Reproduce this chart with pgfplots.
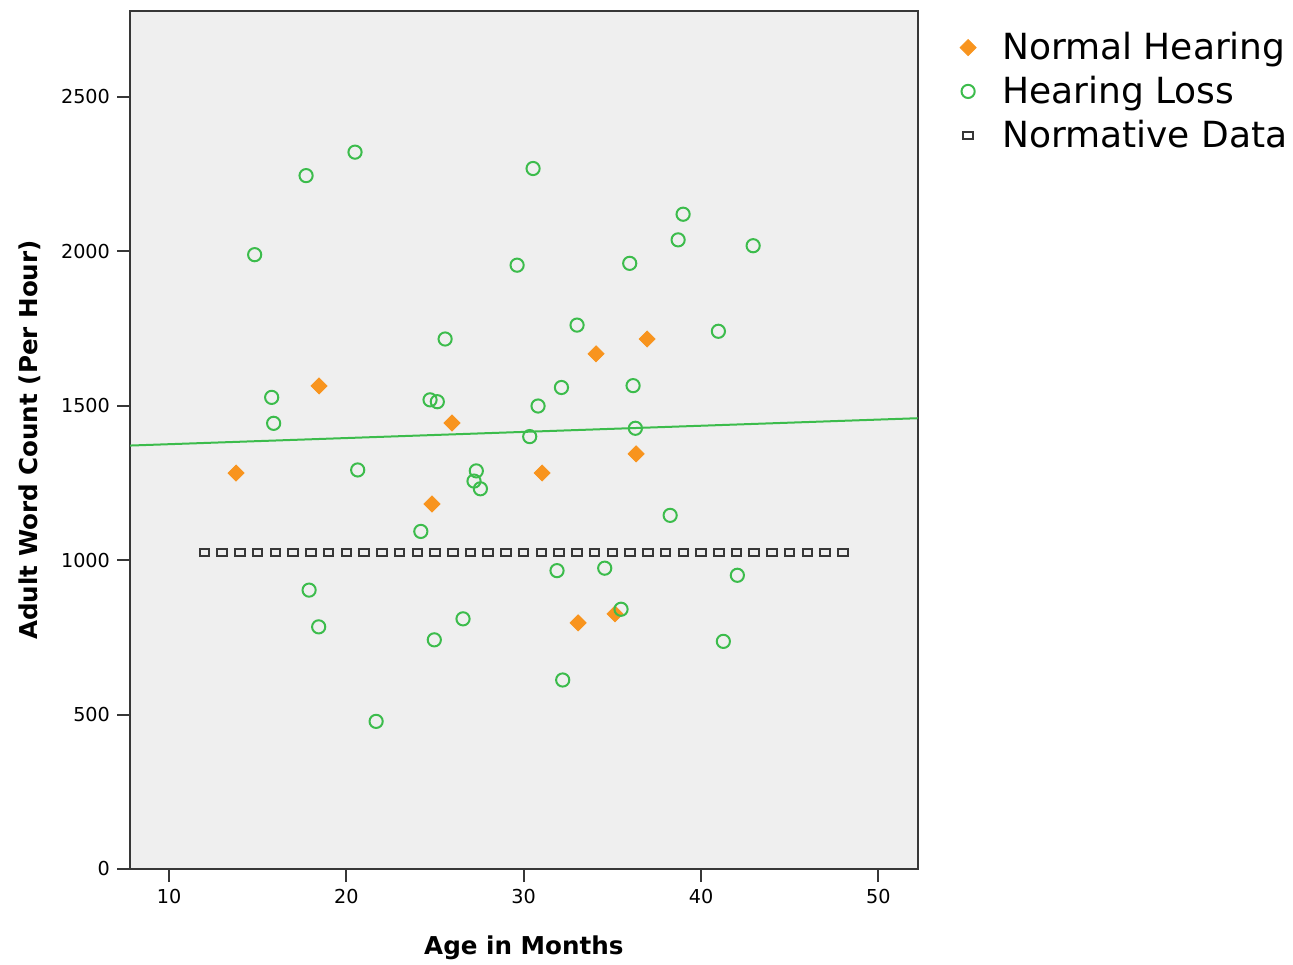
\documentclass[border=0pt]{standalone}
\usepackage{fontspec}
\setmainfont{DejaVu Sans}
\usepackage{pgfplots}
\pgfplotsset{compat=1.18}
\definecolor{nhorange}{RGB}{248,148,30}
\definecolor{hlgreen}{RGB}{60,188,76}
\definecolor{plotbg}{RGB}{239,239,239}
\definecolor{axgray}{RGB}{55,55,55}
\begin{document}
\begin{tikzpicture}
\useasboundingbox (-65pt,-47.5pt) rectangle (581.5pt,434.5pt);
\begin{axis}[
  at={(0,0)}, anchor=south west,
  scale only axis, width=393.85pt, height=429pt,
  xmin=7.8, xmax=52.22, ymin=0, ymax=2778,
  axis background/.style={fill=plotbg},
  axis line style={draw=axgray, line width=1pt},
  xtick={10,20,30,40,50}, ytick={0,500,1000,1500,2000,2500},
  tick align=outside, tick pos=left,
  major tick length=6.5pt,
  tick style={draw=axgray, line width=1pt},
  ticklabel style={font=\fontsize{9.6}{11}\selectfont},
  /pgf/number format/assume math mode=true,
  /pgf/number format/1000 sep={},
  xlabel={Age in Months}, ylabel={Adult Word Count (Per Hour)},
  label style={font=\bfseries\fontsize{12.3}{14}\selectfont},
  xlabel style={at={(axis description cs:0.5,-0.092)}, anchor=center},
  ylabel style={at={(axis description cs:-0.127,0.5)}, anchor=center},
  legend cell align=left,
  legend style={draw=none, fill=none, at={(axis description cs:1,1)}, anchor=north west,
    xshift=18pt, yshift=-6.5pt, column sep=11pt, row sep=2.75pt,
    font=\fontsize{18}{21}\selectfont},
]
\addplot[only marks, color=nhorange, mark=square*, mark size=2.83pt,
  mark options={rotate=45, draw=nhorange, fill=nhorange}] coordinates {
(13.78,1282) (18.46,1564) (25.96,1444) (24.83,1182) (31.04,1282)
(34.08,1668) (36.96,1716) (36.34,1344) (33.07,797) (35.15,826)
};
\addlegendentry{Normal Hearing}
\addplot[only marks, color=hlgreen, mark=o, mark size=3.3pt,
  mark options={draw=hlgreen, line width=1pt}] coordinates {
(20.49,2321) (17.73,2245) (14.83,1989) (15.79,1527) (15.90,1443)
(20.64,1292) (25.57,1716) (24.72,1519) (25.13,1513) (30.53,2268)
(38.99,2120) (38.71,2037) (42.94,2018) (29.63,1955) (35.98,1961)
(33.01,1761) (40.98,1741) (32.13,1559) (36.17,1565) (30.81,1499)
(30.34,1400) (36.30,1427) (27.33,1289) (27.20,1256) (27.56,1231)
(24.20,1093) (38.26,1145) (31.88,966) (34.57,974) (42.05,951)
(35.49,841) (26.58,810) (24.96,742) (41.26,737) (32.20,612)
(17.90,903) (18.44,784) (21.68,478)
};
\addlegendentry{Hearing Loss}
\addplot[only marks, color=axgray, mark=square, mark size=1.7pt,
  mark options={draw=axgray, line width=1pt, xscale=1.4}] coordinates {
(12,1025) (13,1025) (14,1025) (15,1025) (16,1025) (17,1025) (18,1025)
(19,1025) (20,1025) (21,1025) (22,1025) (23,1025) (24,1025) (25,1025)
(26,1025) (27,1025) (28,1025) (29,1025) (30,1025) (31,1025) (32,1025)
(33,1025) (34,1025) (35,1025) (36,1025) (37,1025) (38,1025) (39,1025)
(40,1025) (41,1025) (42,1025) (43,1025) (44,1025) (45,1025) (46,1025)
(47,1025) (48,1025)
};
\addlegendentry{Normative Data}
\addplot[hlgreen, line width=1pt, forget plot] coordinates {(7.8,1371) (52.22,1459.5)};
\end{axis}
\end{tikzpicture}
\end{document}
